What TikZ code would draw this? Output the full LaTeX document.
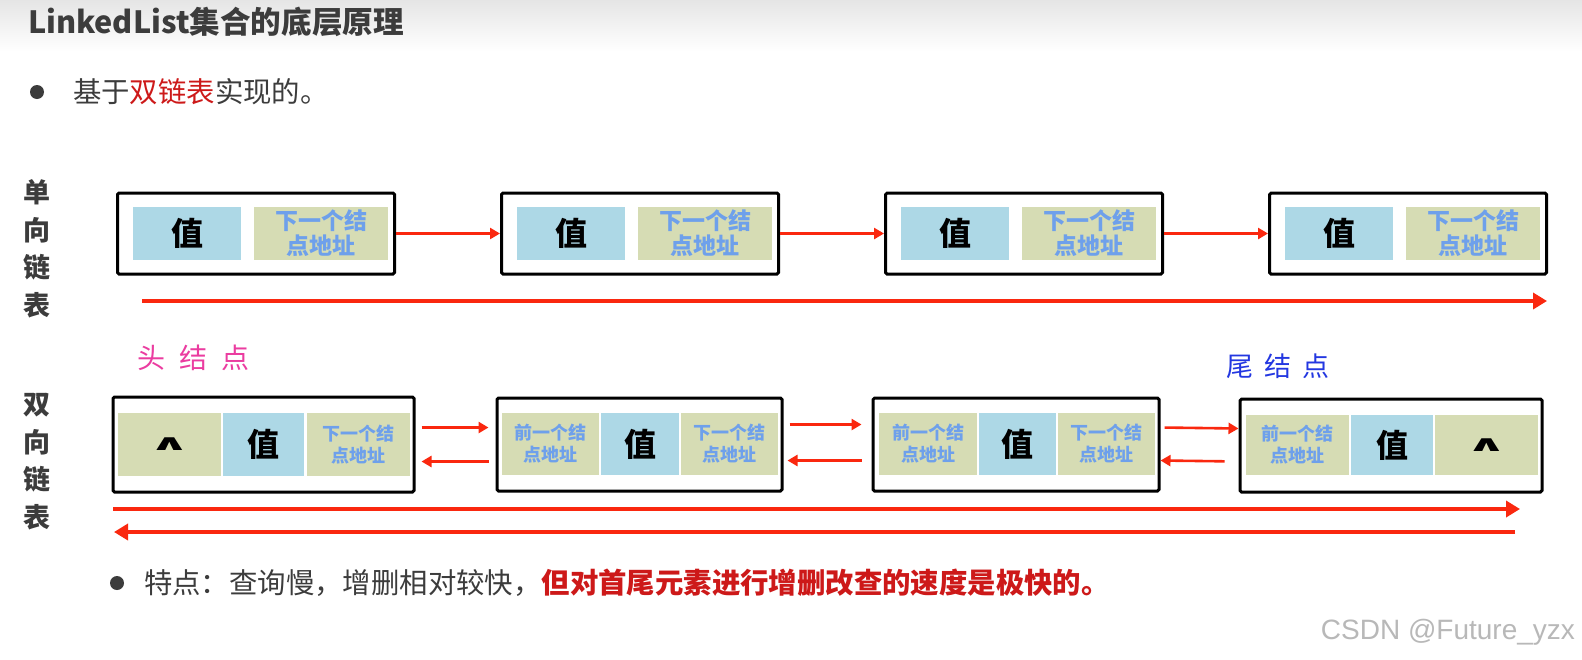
\documentclass[tikz,border=0pt]{standalone}
\usepackage{fontspec}
\setmainfont{Noto Sans CJK SC}
\newfontfamily\markfont{Liberation Sans}
\newfontfamily\symfont{DejaVu Sans}
\usetikzlibrary{arrows.meta}

\definecolor{valblue}{RGB}{173,216,230}
\definecolor{addrgreen}{RGB}{214,220,180}
\definecolor{addrtext}{RGB}{110,160,235}
\definecolor{arrred}{RGB}{250,40,15}
\definecolor{textgray}{RGB}{60,60,60}
\definecolor{hlred}{RGB}{205,25,25}
\definecolor{headpink}{RGB}{235,60,160}
\definecolor{tailblue}{RGB}{35,55,225}

\begin{document}
\begin{tikzpicture}[x=0.5pt, y=-0.5pt,
    listbox/.style={draw=black, line width=1.5pt, fill=white, inner sep=0pt, rounded corners=0.8pt},
    valcell/.style={fill=valblue, inner sep=0pt, text=black, font=\fontsize{16pt}{16pt}\selectfont\bfseries},
    addrcell/.style={fill=addrgreen, inner sep=0pt, align=center, text=addrtext, font=\fontsize{11.5pt}{12.5pt}\selectfont\bfseries},
    smalladdr/.style={addrcell, font=\fontsize{9pt}{11pt}\selectfont\bfseries},
    nullcell/.style={fill=addrgreen, inner sep=0pt, text=black, font=\symfont\fontsize{11pt}{11pt}\selectfont\bfseries},
    redarr/.style={draw=arrred, line width=1.3pt, -{Triangle[length=5pt,width=5.5pt]}},
    longarr/.style={draw=arrred, line width=2pt, -{Triangle[length=7pt,width=8pt]}},
    sidelabel/.style={text=textgray, align=center, font=\fontsize{13.5pt}{18.75pt}\selectfont\bfseries},
    bulletdot/.style={circle, fill=textgray, inner sep=0pt, minimum size=7pt}]
    \useasboundingbox (0,0) rectangle (1582,659);
    \fill[white] (0,0) rectangle (1582,659);
    \fill[top color=black!10, bottom color=white] (0,0) rectangle (1582,52);

    % Title and first bullet
    \node[anchor=west, text=textgray, font=\fontsize{15.3pt}{15.3pt}\selectfont\bfseries] (title) at (21,22) {LinkedList集合的底层原理};
    \node[bulletdot] (B1) at (37,92) {};
    \node[anchor=west, text=textgray, font=\fontsize{14.2pt}{14.2pt}\selectfont] (intro) at (66,92) {基于\textcolor{hlred}{双链表}实现的。};

    % Row labels
    \node[sidelabel] (single) at (37,249) {单\\向\\链\\表};
    \node[sidelabel] (double) at (37,461.5) {双\\向\\链\\表};

    % Singly linked list
    \node[listbox, minimum width=138.5pt, minimum height=40.5pt] (S1) at (256,233.5) {};
    \node[listbox, minimum width=138.5pt, minimum height=40.5pt] (S2) at (640,233.5) {};
    \node[listbox, minimum width=138.5pt, minimum height=40.5pt] (S3) at (1024,233.5) {};
    \node[listbox, minimum width=138.5pt, minimum height=40.5pt] (S4) at (1408,233.5) {};

    \node[valcell, minimum width=54pt, minimum height=26.5pt] (S1v) at (187,233.5) {值};
    \node[addrcell, minimum width=67pt, minimum height=26.5pt] (S1n) at (321,233.5) {下一个结\\点地址};
    \node[valcell, minimum width=54pt, minimum height=26.5pt] (S2v) at (571,233.5) {值};
    \node[addrcell, minimum width=67pt, minimum height=26.5pt] (S2n) at (705,233.5) {下一个结\\点地址};
    \node[valcell, minimum width=54pt, minimum height=26.5pt] (S3v) at (955,233.5) {值};
    \node[addrcell, minimum width=67pt, minimum height=26.5pt] (S3n) at (1089,233.5) {下一个结\\点地址};
    \node[valcell, minimum width=54pt, minimum height=26.5pt] (S4v) at (1339,233.5) {值};
    \node[addrcell, minimum width=67pt, minimum height=26.5pt] (S4n) at (1473,233.5) {下一个结\\点地址};

    \draw[redarr] (S1.east) -- (S2.west);
    \draw[redarr] (S2.east) -- (S3.west);
    \draw[redarr] (S3.east) -- (S4.west);

    \coordinate (SL) at (142,301);
    \coordinate (SR) at (1547,301);
    \draw[longarr] (SL) -- (SR);

    % Head and tail labels
    \node[anchor=west, text=headpink, font=\fontsize{14pt}{14pt}\selectfont] (head) at (130,358) {头\hspace{7pt}结\hspace{7pt}点};
    \node[anchor=west, text=tailblue, font=\fontsize{13.5pt}{13.5pt}\selectfont] (tail) at (1219,366) {尾\hspace{5.5pt}结\hspace{5.5pt}点};

    % Doubly linked list
    \node[listbox, minimum width=150.5pt, minimum height=47.5pt] (D1) at (263.5,444.5) {};
    \node[listbox, minimum width=142.5pt, minimum height=46.5pt] (D2) at (639.5,444.5) {};
    \node[listbox, minimum width=143pt, minimum height=46.5pt] (D3) at (1016,444.5) {};
    \node[listbox, minimum width=151pt, minimum height=46.5pt] (D4) at (1391,445.5) {};

    \node[nullcell, minimum width=51.5pt, minimum height=31.5pt] (D1p) at (169.5,444.5) {\scalebox{2.3}[1]{∧}};
    \node[valcell, minimum width=40.5pt, minimum height=31.5pt] (D1v) at (263.5,444.5) {值};
    \node[smalladdr, minimum width=51.5pt, minimum height=31.5pt] (D1n) at (358.5,444.5) {下一个结\\点地址};

    \node[smalladdr, minimum width=48.5pt, minimum height=31pt] (D2p) at (550.5,444) {前一个结\\点地址};
    \node[valcell, minimum width=39pt, minimum height=31pt] (D2v) at (640,444) {值};
    \node[smalladdr, minimum width=48.5pt, minimum height=31pt] (D2n) at (729.5,444) {下一个结\\点地址};

    \node[smalladdr, minimum width=49pt, minimum height=31pt] (D3p) at (928,444) {前一个结\\点地址};
    \node[valcell, minimum width=38.5pt, minimum height=31pt] (D3v) at (1017.5,444) {值};
    \node[smalladdr, minimum width=48.5pt, minimum height=31pt] (D3n) at (1106.5,444) {下一个结\\点地址};

    \node[smalladdr, minimum width=51.5pt, minimum height=30pt] (D4p) at (1297.5,445) {前一个结\\点地址};
    \node[valcell, minimum width=41pt, minimum height=30pt] (D4v) at (1392,445) {值};
    \node[nullcell, minimum width=51.5pt, minimum height=30pt] (D4n) at (1486.5,445) {\scalebox{2.3}[1]{∧}};

    \draw[redarr, shorten <=3pt, shorten >=3.5pt] ([yshift=8.5pt]D1.east) -- ([yshift=8.5pt]D2.west);
    \draw[redarr, shorten <=3.5pt, shorten >=3pt] ([yshift=-8.5pt]D2.west) -- ([yshift=-8.5pt]D1.east);
    \draw[redarr, shorten <=3pt, shorten >=5pt] ([yshift=10pt]D2.east) -- ([yshift=10pt]D3.west);
    \draw[redarr, shorten <=5pt, shorten >=2pt] ([yshift=-8pt]D3.west) -- ([yshift=-8pt]D2.east);
    \draw[redarr, shorten <=2pt] ([yshift=8.5pt]D3.east) -- ([yshift=8.5pt]D4.west);
    \draw[redarr, shorten <=7pt] ([yshift=-8pt]D4.west) -- ([yshift=-8pt]D3.east);

    \coordinate (FL) at (113,509);
    \coordinate (FR) at (1520,509);
    \coordinate (BL) at (114,532);
    \coordinate (BR) at (1515,532);
    \draw[longarr] (FL) -- (FR);
    \draw[longarr] (BR) -- (BL);

    % Second bullet
    \node[bulletdot] (B2) at (117,583) {};
    \node[anchor=west, text=textgray, font=\fontsize{14.2pt}{14.2pt}\selectfont] (feature) at (137,583) {特点：查询慢，增删相对较快，\textcolor{hlred}{\bfseries 但对首尾元素进行增删改查的速度是极快的。}};

    % Watermark
    \node[anchor=east, text=black!28, font=\markfont\fontsize{14pt}{14pt}\selectfont] (mark) at (1582,632) {CSDN @Future\_yzx};
\end{tikzpicture}
\end{document}
